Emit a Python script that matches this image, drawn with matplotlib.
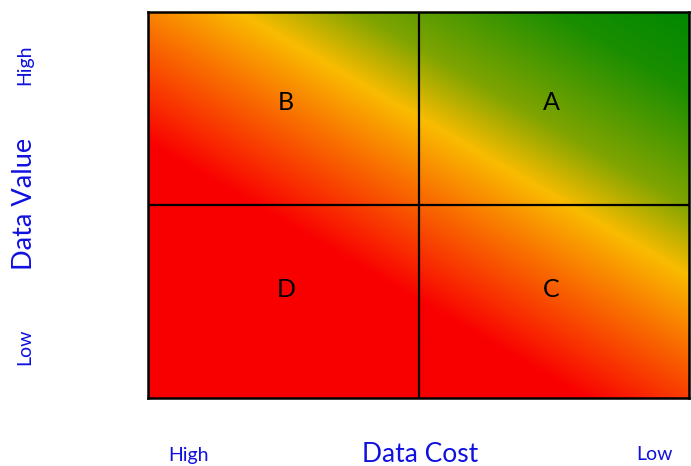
import numpy as np
import matplotlib
matplotlib.use("Agg")
import matplotlib.pyplot as plt
from matplotlib.colors import LinearSegmentedColormap

plt.rcParams["font.family"] = ["Lato", "DejaVu Sans"]

# quadrant names: column 0 = high cost, row 1 = high value
quadrants = ["D", "C", "B", "A"]
quad_cols = [0, 1, 0, 1]
quad_rows = [0, 0, 1, 1]

x_title = "Data Cost"
y_title = "Data Value"
x_ends = ["High", "Low"]
y_ends = ["Low", "High"]

# red -> orange -> yellow -> green along the diagonal
grad_stops = [0.0, 0.363, 0.522, 0.626, 0.725, 0.89, 1.0]
grad_colors = ["#f80000", "#f80000", "#f97000", "#f9bc00", "#80a400",
               "#1a8e00", "#008800"]

BLUE = "#1010e0"

fig = plt.figure(figsize=(6.91, 4.66), dpi=100)
ax = fig.add_axes([148 / 691, 68 / 466, 541 / 691, 386 / 466])

# diagonal gradient background
nx, ny = 600, 430
U, V = np.meshgrid(np.linspace(0, 1, nx), np.linspace(0, 1, ny))
s = (0.82 * U + V) / 1.82
cmap = LinearSegmentedColormap.from_list("risk", list(zip(grad_stops, grad_colors)))
ax.imshow(s, cmap=cmap, origin="lower", extent=[0, 2, 0, 2], aspect="auto",
          interpolation="bilinear", vmin=0, vmax=1)

ax.axvline(1, color="black", lw=1.6)
ax.axhline(1, color="black", lw=1.6)
ax.set_xlim(0, 2)
ax.set_ylim(0, 2)
ax.set_xticks([])
ax.set_yticks([])
for sp in ax.spines.values():
    sp.set_linewidth(1.8)
    sp.set_color("black")

for name, c, r in zip(quadrants, quad_cols, quad_rows):
    ax.text(c + (0.51 if c == 0 else 0.49), r + (0.53 if r == 1 else 0.56), name,
            ha="center", va="center", fontsize=18, color="black")

# axis annotations
fig.text(420 / 691, 1 - 455 / 466, x_title, ha="center", va="center",
         fontsize=19, color=BLUE)
fig.text(188 / 691, 1 - 455 / 466, x_ends[0], ha="center", va="center",
         fontsize=14, color=BLUE)
fig.text(655 / 691, 1 - 455 / 466, x_ends[1], ha="center", va="center",
         fontsize=14, color=BLUE)

fig.text(25 / 691, 1 - 204 / 466, y_title, ha="center", va="center",
         rotation=90, fontsize=19.5, color=BLUE)
fig.text(25 / 691, 1 - 347 / 466, y_ends[0], ha="center", va="center",
         rotation=90, fontsize=14, color=BLUE)
fig.text(25 / 691, 1 - 65 / 466, y_ends[1], ha="center", va="center",
         rotation=90, fontsize=14, color=BLUE)

fig.savefig("out.png", dpi=100, facecolor="white")
